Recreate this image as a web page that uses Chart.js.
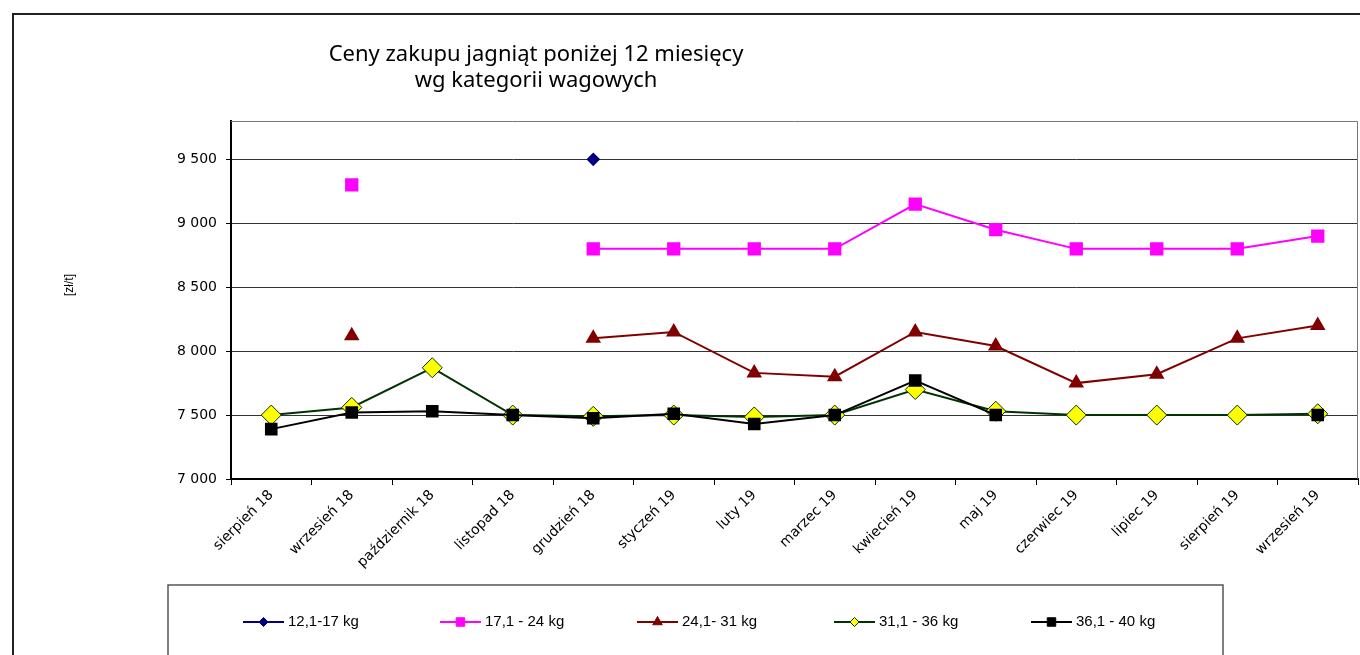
<!DOCTYPE html>
<html>
<head>
<meta charset="utf-8">
<script src="https://cdn.jsdelivr.net/npm/chart.js@4"></script>
<style>
  html, body { margin: 0; padding: 0; background: #fff; }
  canvas { display: block; }
</style>
</head>
<body>
<canvas id="lambChart" width="1360" height="655"></canvas>
<script>
const months = ['sierpień 18', 'wrzesień 18', 'październik 18', 'listopad 18', 'grudzień 18', 'styczeń 19',
    'luty 19', 'marzec 19', 'kwiecień 19', 'maj 19', 'czerwiec 19', 'lipiec 19', 'sierpień 19', 'wrzesień 19'];

const seriesNames = ['12,1-17 kg', '17,1 - 24 kg', '24,1- 31 kg', '31,1 - 36 kg', '36,1 - 40 kg'];

const kg12_17 = [null, null, null, null, 9500, null, null, null, null, null, null, null, null, null];
const kg17_24 = [null, 9300, null, null, 8800, 8800, 8800, 8800, 9150, 8950, 8800, 8800, 8800, 8900];
const kg24_31 = [null, 8120, null, null, 8100, 8150, 7830, 7800, 8150, 8040, 7750, 7820, 8100, 8200];
const kg31_36 = [7500, 7560, 7870, 7500, 7490, 7500, 7485, 7500, 7700, 7530, 7500, 7500, 7500, 7510];
const kg36_40 = [7390, 7520, 7530, 7500, 7475, 7510, 7430, 7500, 7770, 7500, null, null, null, 7500];

const yTicks = [7000, 7500, 8000, 8500, 9000, 9500];

const titleLines = ['Ceny zakupu jagniąt poniżej 12 miesięcy', 'wg kategorii wagowych'];
const yTitle = '[zł/t]';

function fmt(v) {
    return String(v).replace(/\B(?=(\d{3})+(?!\d))/g, ' ');
}

// frame, title, axis label and the Excel-like legend box
const decor = {
    id: 'decor',
    beforeDraw(chart) {
        const ctx = chart.ctx;
        ctx.save();
        ctx.fillStyle = '#fff';
        ctx.fillRect(0, 0, chart.width, chart.height);
        ctx.strokeStyle = '#222';
        ctx.lineWidth = 2;
        ctx.beginPath();
        ctx.moveTo(13, chart.height);
        ctx.lineTo(13, 14);
        ctx.lineTo(chart.width, 14);
        ctx.stroke();
        ctx.restore();
    },
    afterDraw(chart) {
        const ctx = chart.ctx;
        const area = chart.chartArea;
        ctx.save();
        // plot box top/right
        ctx.strokeStyle = '#777';
        ctx.lineWidth = 1;
        ctx.beginPath();
        ctx.moveTo(area.left, area.top + 0.5);
        ctx.lineTo(area.right - 0.5, area.top + 0.5);
        ctx.lineTo(area.right - 0.5, area.bottom);
        ctx.stroke();

        // title
        ctx.fillStyle = '#000';
        ctx.textAlign = 'center';
        ctx.textBaseline = 'middle';
        ctx.font = '22px "Comic Sans MS", "Noto Sans", sans-serif';
        ctx.fillText(titleLines[0], 536, 55);
        ctx.fillText(titleLines[1], 536, 81);

        // y title
        ctx.save();
        ctx.translate(70, 285);
        ctx.rotate(-Math.PI / 2);
        ctx.font = '12px "Liberation Sans", Arial, sans-serif';
        ctx.fillText(yTitle, 0, 0);
        ctx.restore();

        // legend box
        ctx.strokeStyle = '#555';
        ctx.lineWidth = 1.5;
        ctx.beginPath();
        ctx.moveTo(168, chart.height);
        ctx.lineTo(168, 585);
        ctx.lineTo(1223, 585);
        ctx.lineTo(1223, chart.height);
        ctx.stroke();

        chart.data.datasets.forEach((ds, i) => {
            const x = 243 + i * 197;
            const y = 622;
            ctx.strokeStyle = ds.borderColor;
            ctx.lineWidth = 2;
            ctx.beginPath();
            ctx.moveTo(x, y);
            ctx.lineTo(x + 41, y);
            ctx.stroke();

            ctx.fillStyle = ds.pointBackgroundColor;
            ctx.strokeStyle = ds.pointBorderColor;
            ctx.lineWidth = 1;
            Chart.helpers.drawPoint(ctx, {
                pointStyle: ds.pointStyle,
                radius: ds.legendRadius,
                borderWidth: 1,
                rotation: 0
            }, x + 20.5, y);

            ctx.fillStyle = '#000';
            ctx.font = '15px "Liberation Sans", Arial, sans-serif';
            ctx.textAlign = 'left';
            ctx.textBaseline = 'middle';
            ctx.fillText(seriesNames[i], x + 45, y);
        });
        ctx.restore();
    }
};

const tickFont = { family: '"DejaVu Sans", sans-serif', size: 14 };

new Chart(document.getElementById('lambChart'), {
    type: 'line',
    data: {
        labels: months,
        datasets: [
            {
                label: seriesNames[0], data: kg12_17,
                borderColor: '#000080', backgroundColor: '#000080',
                pointBackgroundColor: '#000080', pointBorderColor: '#000080',
                pointStyle: 'rectRot', pointRadius: 5.5, legendRadius: 4.5,
                borderWidth: 2, order: 4
            },
            {
                label: seriesNames[1], data: kg17_24,
                borderColor: '#ff00ff', backgroundColor: '#ff00ff',
                pointBackgroundColor: '#ff00ff', pointBorderColor: '#ff00ff',
                pointStyle: 'rect', pointRadius: 8, legendRadius: 6,
                borderWidth: 2, order: 3
            },
            {
                label: seriesNames[2], data: kg24_31,
                borderColor: '#800000', backgroundColor: '#800000',
                pointBackgroundColor: '#800000', pointBorderColor: '#800000',
                pointStyle: 'triangle', pointRadius: 7, legendRadius: 5.5,
                borderWidth: 2, order: 2
            },
            {
                label: seriesNames[3], data: kg31_36,
                borderColor: '#003300', backgroundColor: '#ffff00',
                pointBackgroundColor: '#ffff00', pointBorderColor: '#003300',
                pointStyle: 'rectRot', pointRadius: 10, legendRadius: 4.5,
                pointBorderWidth: 1, borderWidth: 2, order: 1
            },
            {
                label: seriesNames[4], data: kg36_40,
                borderColor: '#000000', backgroundColor: '#000000',
                pointBackgroundColor: '#000000', pointBorderColor: '#000000',
                pointStyle: 'rect', pointRadius: 7.5, legendRadius: 6,
                borderWidth: 2, order: 0
            }
        ]
    },
    options: {
        responsive: false,
        animation: false,
        spanGaps: false,
        layout: { autoPadding: false, padding: { left: 0, right: 2, top: 121, bottom: 0 } },
        scales: {
            x: {
                offset: true,
                afterFit: s => { s.height = 655 - 121 - 358; s.paddingLeft = 0; s.paddingRight = 0; },
                grid: { display: true, offset: true, drawOnChartArea: false, tickLength: 6, tickColor: '#000', tickWidth: 1 },
                border: { display: true, color: '#000', width: 2 },
                ticks: { color: '#000', font: tickFont, minRotation: 45, maxRotation: 45, autoSkip: false, padding: 2 }
            },
            y: {
                min: 7000,
                max: 9800,
                afterFit: s => { s.width = 231; s.paddingTop = 0; s.paddingBottom = 0; },
                afterBuildTicks: s => { s.ticks = yTicks.map(v => ({ value: v })); },
                grid: { color: '#333', lineWidth: 1, tickLength: 5, tickColor: '#000' },
                border: { display: true, color: '#000', width: 2 },
                ticks: { color: '#000', font: tickFont, padding: 9, callback: v => fmt(v) }
            }
        },
        plugins: {
            legend: { display: false },
            title: { display: false },
            tooltip: { enabled: false }
        }
    },
    plugins: [decor]
});
</script>
</body>
</html>
